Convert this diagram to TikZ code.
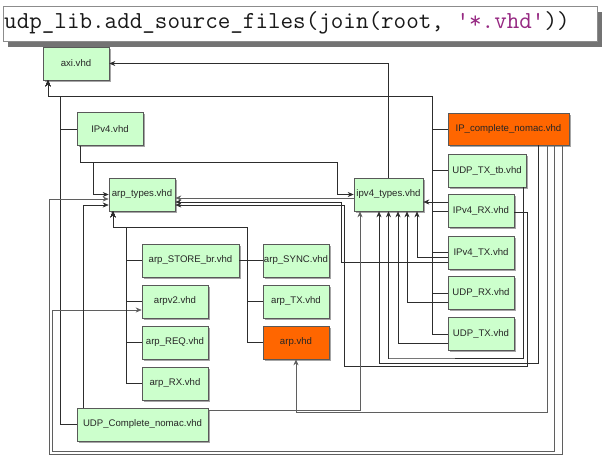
\documentclass[tikz,border=0pt]{standalone}
\usepackage{fontspec}
\setmainfont{Liberation Sans}
\setmonofont{Latin Modern Mono}
\usetikzlibrary{arrows.meta,shadows}
\definecolor{boxgreen}{RGB}{204,255,204}
\definecolor{boxorange}{RGB}{255,102,0}
\definecolor{wire}{RGB}{45,45,45}
\definecolor{wiregray}{RGB}{95,95,95}
\definecolor{strpurple}{RGB}{150,40,130}
\tikzset{
  file/.style={draw=black!65, line width=0.6pt, fill=boxgreen,
    minimum width=66pt, minimum height=33pt, inner sep=0pt,
    font=\fontsize{9.6}{11}\selectfont, text=black!85,
    drop shadow={shadow xshift=1.6pt, shadow yshift=-1.6pt, fill=black, opacity=0.35}},
  topfile/.style={file, fill=boxorange},
  wirel/.style={draw=wire, line width=0.6pt},
  dep/.style={wirel, -{Stealth[length=6pt,width=5pt,inset=2pt]}},
  titlebox/.style={draw=black!45, fill=white, line width=0.6pt, inner sep=0pt,
    minimum width=594pt, minimum height=35pt, anchor=north west,
    drop shadow={shadow xshift=5pt, shadow yshift=-6pt, fill=black!55, opacity=1}}
}
\begin{document}
\begin{tikzpicture}[x=1pt,y=-1pt]
\useasboundingbox (0,0) rectangle (610,461);
% title
\node[titlebox] (title) at (3,6) {};
\node[anchor=west, inner sep=0pt, font=\ttfamily\fontsize{24.4}{26}\selectfont, text=black!90] (code) at (4,23)
  {udp\_lib.add\_source\_files(join(root, \textcolor{strpurple}{'*.vhd'}))};
% nodes
\node[file] (axi) at (76,63.5) {axi.vhd};
\node[file] (ipv4) at (110,129) {IPv4.vhd};
\node[file] (arpt) at (142,194.5) {arp\_types.vhd};
\node[file, minimum width=69pt] (ipt) at (388.5,194.5) {ipv4\_types.vhd};
\node[topfile, minimum width=121pt, minimum height=32pt] (ipc) at (508.5,129) {IP\_complete\_nomac.vhd};
\node[file, minimum width=78pt] (tb) at (487,170.5) {UDP\_TX\_tb.vhd};
\node[file] (iprx) at (481,211) {IPv4\_RX.vhd};
\node[file] (iptx) at (481,252.5) {IPv4\_TX.vhd};
\node[file] (udprx) at (481,293) {UDP\_RX.vhd};
\node[file] (udptx) at (481,334) {UDP\_TX.vhd};
\node[file, minimum width=97pt] (store) at (190.5,260.5) {arp\_STORE\_br.vhd};
\node[file] (arpv) at (175,301.5) {arpv2.vhd};
\node[file] (req) at (175,342.5) {arp\_REQ.vhd};
\node[file] (arprx) at (175,383.5) {arp\_RX.vhd};
\node[file, minimum width=131pt] (udpc) at (142.5,424.5) {UDP\_Complete\_nomac.vhd};
\node[file] (sync) at (296,260.5) {arp\_SYNC.vhd};
\node[file] (arptx) at (296,301.5) {arp\_TX.vhd};
\node[topfile] (arp) at (296,342.5) {arp.vhd};

% ipv4_types -> axi
\draw[dep] (ipt.north) |- (axi.east);
% axi bus (bottom of axi)
\foreach \n in {ipc,tb,iprx,iptx,udprx,udptx}
  \draw[dep] (\n.west) -| (432,96) -| ([xshift=-28pt]axi.south);
\foreach \n in {ipv4,udpc}
  \draw[dep] (\n.west) -| (60,96) -| ([xshift=-28pt]axi.south);
% IPv4 -> arp_types, ipv4_types
\draw[dep] ([xshift=-30pt]ipv4.south) |- (93,162) |- (arpt.west);
\draw[dep] ([xshift=-30pt]ipv4.south) |- (337,162) |- (ipt.west);
% ipv4_types -> arp_types
\draw[dep, draw=wiregray] ([yshift=-3.5pt]ipt.west) -- ([yshift=-3.5pt]arpt.east);
% IPv4_TX -> arp_types
\draw[dep] ([yshift=-9.5pt]iptx.west) -| (341,202) -- ([yshift=-7.5pt]arpt.east);
% IPv4_RX -> arp_types
\draw[dep] ([yshift=-1pt]iprx.east) -| (527,366) -| (344,205) -- ([yshift=-10.5pt]arpt.east);
% -> ipv4_types bottom
\draw[dep] ([xshift=36pt]tb.south) |- (388,358) -| (ipt.south);
\draw[dep] ([xshift=29.5pt]ipc.south) |- (379,363) -- ([xshift=-9.5pt]ipt.south);
\draw[dep] ([yshift=-9pt]udptx.west) -| ([xshift=9.5pt]ipt.south);
\draw[dep] ([yshift=-9pt]udprx.west) -| ([xshift=18.5pt]ipt.south);
\draw[dep] ([yshift=-4.5pt]iptx.west) -| ([xshift=28.5pt]ipt.south);
\draw[dep, draw=wiregray] ([yshift=14.5pt]udpc.east) -| ([xshift=-28.5pt]ipt.south);
% IPv4_RX -> ipv4_types (right side)
\draw[dep] ([yshift=9pt]iprx.west) -- ([yshift=-7.5pt]ipt.east);
% IP_complete_nomac -> arp, arp_types, arpv2
\draw[dep, draw=wiregray] ([xshift=38.5pt]ipc.south) |- (296,412) -- (arp.south);
\draw[dep, draw=wiregray] ([xshift=53.5pt]ipc.south) |- (49,454) |- ([yshift=-4.5pt]arpt.west);
\draw[dep, draw=wiregray] ([xshift=45.5pt]ipc.south) |- (52,451) |- ([yshift=-8.5pt]arpv.west);
% UDP_Complete_nomac -> arp_types
\draw[dep] ([xshift=-59.5pt]udpc.north) |- ([yshift=-10.5pt]arpt.west);
% arp bus -> arp_types bottom
\foreach \n in {store,arpv,req,arprx}
  \draw[dep] (\n.west) -| (126,227) -| ([xshift=-29pt]arpt.south);
\foreach \n in {sync,arptx,arp}
  \draw[dep] (\n.west) -| (247,227) -| ([xshift=-29pt]arpt.south);
\draw[wirel] (store.east) -- (sync.west);
\end{tikzpicture}
\end{document}
